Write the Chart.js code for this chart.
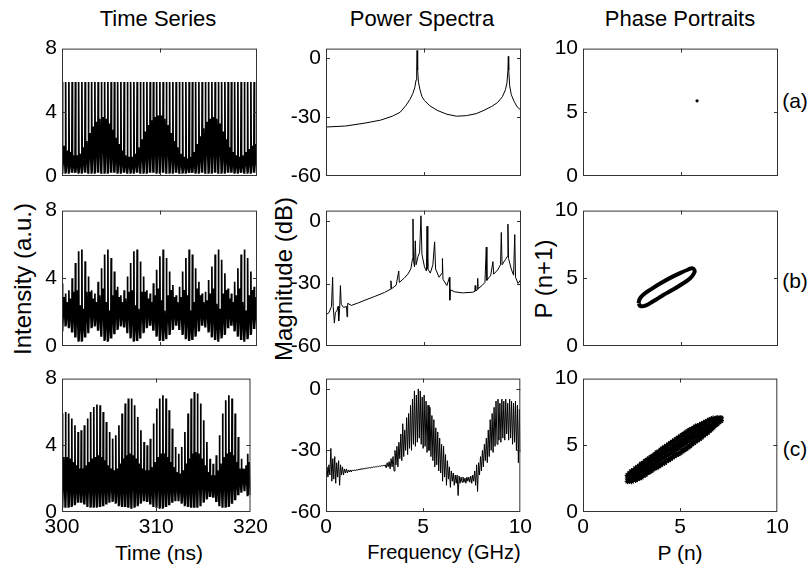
<!DOCTYPE html>
<html><head><meta charset="utf-8">
<script src="https://cdn.jsdelivr.net/npm/chart.js@4/dist/chart.umd.min.js"></script>
<style>
body{margin:0;background:#fff;width:812px;height:568px;position:relative;overflow:hidden;font-family:"Liberation Sans",Arial,sans-serif;}
canvas{position:absolute;}
.t{position:absolute;color:#000;white-space:nowrap;font-size:21px;line-height:1;transform:translate(-50%,-50%);}
.r{transform:translate(-50%,-50%) rotate(-90deg);font-size:24px;}
.h{font-size:22px;}
</style></head><body>
<div class="t h" style="left:158px;top:19px">Time Series</div>
<div class="t h" style="left:422px;top:19px">Power Spectra</div>
<div class="t h" style="left:680px;top:19px">Phase Portraits</div>
<div class="t r" style="left:23px;top:279px">Intensity (a.u.)</div>
<div class="t r" style="left:284px;top:279px">Magnitude (dB)</div>
<div class="t r" style="left:544px;top:279px">P (n+1)</div>
<div class="t" style="left:159px;top:552px">Time (ns)</div>
<div class="t" style="left:444px;top:552px;font-size:20px">Frequency (GHz)</div>
<div class="t" style="left:680px;top:552px">P (n)</div>
<div class="t" style="left:795px;top:100px">(a)</div>
<div class="t" style="left:795px;top:280px">(b)</div>
<div class="t" style="left:795px;top:448px">(c)</div>
<script>
// ---------- tick labels ----------
const timeTicks = [300, 310, 320];
const tsYTicks = [0, 4, 8];
const specXTicks = [0, 5, 10];
const specYTicks = [-60, -30, 0];
const phaseTicks = [0, 5, 10];

// ---------- time series: per-cycle levels (ns 300..320, one cycle per 1/3 ns) ----------
const tsStart = 300, tsCycle = 1/3;
const tsAPeak = [5.9,5.9,5.9,5.9,5.9,5.9,5.9,5.9,5.9,5.9,5.9,5.9,5.9,5.9,5.9,5.9,5.9,5.9,5.9,5.9,5.9,5.9,5.9,5.9,5.9,5.9,5.9,5.9,5.9,5.9,5.9,5.9,5.9,5.9,5.9,5.9,5.9,5.9,5.9,5.9,5.9,5.9,5.9,5.9,5.9,5.9,5.9,5.9,5.9,5.9,5.9,5.9,5.9,5.9,5.9,5.9,5.9,5.9,5.9,5.9];
const tsAMid = [1.9,1.6,1.5,1.3,1.3,1.4,1.8,2.2,2.7,3.1,3.4,3.6,3.7,3.6,3.3,2.9,2.4,2.0,1.6,1.3,1.2,1.2,1.4,1.8,2.3,2.8,3.2,3.5,3.7,3.8,3.8,3.6,3.2,2.7,2.2,1.8,1.4,1.2,1.1,1.2,1.5,2.0,2.5,3.0,3.4,3.6,3.7,3.6,3.3,2.8,2.3,1.8,1.5,1.3,1.2,1.3,1.5,1.7,1.9,2.0];
const tsALow = [0.2,0.2,0.2,0.2,0.2,0.2,0.2,0.2,0.2,0.2,0.2,0.2,0.2,0.2,0.2,0.2,0.2,0.2,0.2,0.2,0.2,0.2,0.2,0.2,0.2,0.2,0.2,0.2,0.2,0.2,0.2,0.2,0.2,0.2,0.2,0.2,0.2,0.2,0.2,0.2,0.2,0.2,0.2,0.2,0.2,0.2,0.2,0.2,0.2,0.2,0.2,0.2,0.2,0.2,0.2,0.2,0.2,0.2,0.2,0.2];

const tsBPeak = [3.7,3.1,3.3,4.0,4.9,5.6,5.7,5.0,4.1,3.3,3.1,3.8,4.6,5.4,5.7,5.2,4.4,3.5,3.0,3.3,4.1,4.9,5.6,5.7,5.0,4.1,3.3,3.1,3.7,4.5,5.3,5.7,5.2,4.4,3.6,3.0,3.5,4.4,5.2,5.7,5.4,4.6,3.8,3.1,3.2,3.9,4.7,5.4,5.7,5.1,4.3,3.4,3.1,3.8,4.6,5.4,5.7,5.2,4.4,3.5];
const tsBMid = [2.9,2.6,2.8,3.2,3.3,2.4,2.2,3.2,3.2,2.8,2.6,3.0,3.4,2.6,2.1,3.0,3.3,2.9,2.6,2.8,3.2,3.3,2.4,2.2,3.2,3.2,2.8,2.6,3.0,3.4,2.7,2.1,3.0,3.3,2.9,2.6,2.9,3.3,3.0,2.1,2.6,3.4,3.0,2.6,2.7,3.1,3.4,2.5,2.2,3.1,3.3,2.8,2.6,3.0,3.4,2.6,2.1,3.0,3.3,2.9];
const tsBLow = [0.9,1.2,1.1,0.8,0.5,0.3,0.3,0.5,0.8,1.1,1.2,0.9,0.6,0.35,0.3,0.45,0.7,1.0,1.2,1.1,0.8,0.5,0.3,0.3,0.5,0.8,1.1,1.2,0.9,0.6,0.35,0.3,0.45,0.7,1.0,1.2,1.0,0.7,0.45,0.3,0.35,0.6,0.9,1.2,1.15,0.85,0.55,0.35,0.3,0.5,0.7,1.05,1.2,0.9,0.6,0.35,0.3,0.45,0.7,1.0];

const tsCPeak = [5.9,6.0,5.9,5.6,5.2,4.8,4.9,5.2,5.6,6.0,6.3,6.45,6.4,6.0,5.4,4.8,4.4,4.6,5.2,5.9,6.5,6.8,6.8,6.4,5.7,4.9,4.2,4.0,4.4,5.3,6.2,6.8,7.0,6.8,6.1,5.0,3.9,3.5,3.9,4.8,5.9,6.8,7.2,7.1,6.5,5.5,4.2,3.2,2.9,3.4,4.6,5.9,6.7,7.0,6.8,5.9,4.5,3.2,2.6,3.5];
const tsCMid = [3.3,3.3,3.2,3.0,2.8,2.6,2.6,2.8,3.0,3.2,3.3,3.4,3.3,3.1,2.8,2.6,2.5,2.6,2.9,3.2,3.4,3.5,3.4,3.2,2.9,2.6,2.5,2.5,2.7,3.0,3.3,3.5,3.5,3.3,3.0,2.7,2.4,2.3,2.5,2.9,3.2,3.5,3.6,3.5,3.2,2.8,2.4,2.2,2.2,2.5,2.9,3.3,3.5,3.6,3.4,3.0,2.6,2.6,2.8,3.0];
const tsCLow = [0.3,0.3,0.3,0.35,0.45,0.55,0.55,0.45,0.35,0.3,0.3,0.3,0.3,0.35,0.45,0.6,0.65,0.55,0.4,0.3,0.3,0.25,0.25,0.3,0.4,0.55,0.65,0.6,0.45,0.35,0.3,0.25,0.25,0.3,0.4,0.55,0.7,0.7,0.55,0.4,0.3,0.25,0.25,0.3,0.4,0.6,0.8,0.9,0.85,0.6,0.4,0.3,0.3,0.35,0.5,0.7,1.0,1.2,1.3,1.0];

// ---------- power spectra ----------
const specAFreq = [0,1,2,2.8,3.4,3.8,4.1,4.3,4.45,4.55,4.62,4.65,4.67,4.7,4.74,4.82,4.92,5.05,5.3,5.7,6.2,6.7,7.2,7.7,8.1,8.5,8.8,9.05,9.2,9.28,9.33,9.35,9.37,9.42,9.5,9.65,9.8,10];
const specADb   = [-35,-34.5,-33,-31.5,-29.5,-27.5,-24,-21,-18,-15,-11,-6,4,-6,-12,-16,-19.5,-21.5,-24,-26.5,-28.5,-29.5,-29.2,-28.2,-26.5,-24.5,-22.5,-19.5,-16,-12.5,-6,1,-6,-14,-18.5,-22,-24.7,-26.5];

const specBFreq = [0,0.15,0.28,0.34,0.37,0.43,0.48,0.56,0.62,0.65,0.7,0.74,0.78,0.9,1.05,1.08,1.11,1.3,1.6,2.0,2.5,3.0,3.3,3.33,3.36,3.6,3.73,3.76,4.0,4.2,4.35,4.44,4.46,4.49,4.54,4.58,4.62,4.72,4.8,4.87,4.92,5.05,5.15,5.18,5.22,5.35,5.48,5.57,5.62,5.8,5.95,5.97,6.0,6.2,6.33,6.35,6.38,6.6,7.0,7.5,7.63,7.65,7.68,7.76,7.78,7.8,8.0,8.15,8.22,8.25,8.45,8.56,8.6,8.8,8.95,8.99,9.03,9.2,9.3,9.33,9.36,9.5,9.62,9.68,9.72,9.85,10];
const specBDb   = [-45,-44,-41,-27,-41,-49,-44,-43,-41,-48,-42,-31,-40,-41.5,-41,-46,-39.5,-40.5,-39.5,-38,-36.2,-34.3,-32.8,-28.7,-32.5,-30.8,-24,-29.5,-27.5,-25.5,-23,-18,1,-19,-22,-9.5,-21,-17,-15,2.5,-16,-22,-24,-2.5,-23,-25,-21,-10,-23,-27,-25,-18,-28,-31,-27,-38,-33,-34,-34.5,-34.2,-33.8,-31,-33.6,-33,-27.5,-32.5,-31,-29.5,-12.5,-28.5,-26,-19.5,-25.5,-23.5,-21,-5.5,-21,-18.5,-17,-1.5,-18,-23,-26,-6.5,-27,-30,-28];

// spectrum (c): noisy band, upper / lower edge every 0.1 GHz from 0 to 10
const specCStep = 0.1;
const specCUpper = [-38,-37,-29,-34,-33,-36,-35,-37,-38,-39,-39,-39.5,-39.5,-39.5,-39.5,-39.5,-39.3,-39.1,-38.9,-38.8,-38.6,-38.5,-38.3,-38.2,-38,-37.9,-37.7,-37.6,-37.4,-37.3,-37,-36,-35.5,-34,-33,-30,-28,-26,-22,-17,-20,-14,-12,-8,-5,-1,-3,0,-1,-4,-3,-6,-8,-9,-13,-15,-19,-21,-24,-27,-28,-32,-35,-38,-40,-41,-42,-42,-42.5,-43,-43,-43.5,-43,-43,-42.5,-42,-40,-37,-36,-33,-30,-27,-24,-20,-15,-12,-9,-6,-5,-7,-5,-6,-5,-7,-5,-6,-7,-6,-8,-10,-9];
const specCLower = [-42,-43,-42,-45,-44,-46,-43,-47,-42,-42,-41,-41,-40.5,-40.5,-40,-39.8,-39.6,-39.4,-39.2,-39.1,-38.9,-38.8,-38.6,-38.5,-38.3,-38.2,-38,-37.9,-37.7,-37.6,-37.6,-38.5,-38,-39,-38,-40,-37,-38,-34,-35,-33,-30,-32,-29,-30,-27,-28,-26,-24,-27,-29,-28,-31,-30,-33,-35,-38,-37,-40,-41,-45,-43,-47,-44,-48,-45,-47,-46,-52,-46,-45.5,-45.5,-46,-45,-45.5,-46,-45,-47,-50,-42,-40,-38,-35,-36,-33,-30,-31,-28,-27,-25,-26,-24,-25,-22,-25,-24,-27,-26,-30,-36,-31];

// ---------- phase portraits ----------
const phaseAPoint = [[5.85, 5.9]];
const phaseBLoop = [[2.85,3.15],[2.9,3.45],[3.1,3.8],[3.5,4.2],[4.0,4.65],[4.5,5.05],[5.0,5.4],[5.4,5.65],[5.6,5.75],[5.72,5.6],[5.7,5.4],[5.5,5.0],[5.1,4.6],[4.6,4.15],[4.1,3.75],[3.6,3.3],[3.2,2.98],[2.95,2.95],[2.85,3.15]];
// cloud of P(n+1) vs P(n): x column and the P(n+1) values seen at it
const phaseCX = [2.3,2.4,2.5,2.6,2.7,2.8,2.9,3.0,3.1,3.2,3.3,3.4,3.5,3.6,3.7,3.8,3.9,4.0,4.1,4.2,4.3,4.4,4.5,4.6,4.7,4.8,4.9,5.0,5.1,5.2,5.3,5.4,5.5,5.6,5.7,5.8,5.9,6.0,6.1,6.2,6.3,6.4,6.5,6.6,6.7,6.8,6.9,7.0,7.1];
const phaseCY = [[2.3,2.55,2.75],[2.35,2.6,2.9],[2.3,2.5,2.8,3.05],[2.45,2.75,3.1],[2.4,2.65,2.95,3.25],[2.5,2.8,3.1,3.35],[2.55,2.85,3.2,3.45],[2.6,2.95,3.25,3.6],[2.75,3.05,3.4,3.65],[2.8,3.15,3.45,3.8],[2.95,3.25,3.6,3.9],[3.0,3.35,3.7,4.0],[3.1,3.45,3.8,4.1],[3.2,3.55,3.9,4.2],[3.3,3.65,4.0,4.3],[3.35,3.75,4.1,4.45],[3.45,3.85,4.2,4.5],[3.55,3.95,4.3,4.65],[3.65,4.05,4.4,4.75],[3.7,4.1,4.5,4.85],[3.85,4.25,4.6,4.95],[3.9,4.3,4.7,5.05],[4.0,4.4,4.75,5.15],[4.1,4.5,4.85,5.25],[4.2,4.6,4.95,5.35],[4.3,4.7,5.05,5.45],[4.35,4.8,5.15,5.55],[4.45,4.9,5.25,5.65],[4.55,5.0,5.35,5.75],[4.65,5.1,5.45,5.85],[4.75,5.2,5.55,5.95],[4.85,5.3,5.65,6.05],[4.95,5.4,5.75,6.15],[5.1,5.5,5.85,6.2],[5.2,5.6,5.95,6.3],[5.3,5.7,6.05,6.4],[5.4,5.75,6.1,6.45],[5.5,5.85,6.2,6.5],[5.6,5.95,6.3,6.6],[5.75,6.05,6.4,6.65],[5.85,6.15,6.5,6.75],[5.95,6.25,6.55,6.8],[6.1,6.4,6.7,6.9],[6.2,6.5,6.8,6.95],[6.35,6.6,6.85,7.0],[6.5,6.7,6.95],[6.6,6.8,7.05],[6.75,7.0],[6.85,7.05]];

// ---------- build data for the library ----------
function timeSeries(peak, mid, low){
  const out = [];
  for (let i = 0; i < peak.length; i++){
    const t = tsStart + i*tsCycle;
    out.push({x:t, y:low[i]});
    out.push({x:t + tsCycle*0.12, y:peak[i]});
    out.push({x:t + tsCycle*0.24, y:low[i]});
    out.push({x:t + tsCycle*0.6, y:mid[i]});
  }
  out.push({x:tsStart + peak.length*tsCycle, y:low[low.length-1]});
  return out;
}
function pairs(xs, ys){ return xs.map((x,i)=>({x, y:ys[i]})); }
function band(upper, lower){
  const out = [];
  for (let i = 0; i < upper.length; i++){
    out.push({x:i*specCStep, y:lower[i]});
    out.push({x:i*specCStep + specCStep/2, y:upper[i]});
  }
  return out;
}
function pts(arr){ return arr.map(p=>({x:p[0], y:p[1]})); }
function cloud(xs, ys){ const o=[]; xs.forEach((x,i)=>ys[i].forEach(y=>o.push({x,y}))); return o; }

const FONT = '"Liberation Sans", Arial, sans-serif';
const colX = [62, 326, 583], colW = 195;
const rows = [{top:45, h:131}, {top:207, h:139}, {top:375, h:137}];
const PADL = 60, PADT = 14, PADR = 14, PADB = 36;

const boxPlugin = {
  id:'box',
  afterDraw(chart){
    const {ctx, chartArea:a, scales:{x, y}} = chart;
    ctx.save();
    ctx.strokeStyle = '#333'; ctx.lineWidth = 1;
    ctx.strokeRect(a.left+0.5, a.top+0.5, a.right-a.left-1, a.bottom-a.top-1);
    ctx.beginPath();
    x.ticks.forEach(t=>{
      if (t.value <= x.min || t.value >= x.max) return;
      const px = Math.round(x.getPixelForValue(t.value)) + 0.5;
      ctx.moveTo(px, a.bottom); ctx.lineTo(px, a.bottom-4);
      ctx.moveTo(px, a.top); ctx.lineTo(px, a.top+4);
    });
    y.ticks.forEach(t=>{
      if (t.value <= y.min || t.value >= y.max) return;
      const py = Math.round(y.getPixelForValue(t.value)) + 0.5;
      ctx.moveTo(a.left, py); ctx.lineTo(a.left+4, py);
      ctx.moveTo(a.right, py); ctx.lineTo(a.right-4, py);
    });
    ctx.stroke();
    ctx.restore();
  }
};

function panel(col, row, datasets, xr, xTicks, yr, yTicks){
  const c = document.createElement('canvas');
  const W = colW + PADL + PADR, H = rows[row].h + PADT + PADB;
  c.width = W; c.height = H;
  c.style.left = (colX[col] - PADL) + 'px';
  c.style.top = (rows[row].top - PADT) + 'px';
  c.style.width = W + 'px'; c.style.height = H + 'px';
  document.body.appendChild(c);
  const showX = row === 2;
  new Chart(c, {
    type:'line',
    data:{datasets},
    options:{
      responsive:false, animation:false, devicePixelRatio:1,
      layout:{padding:{top:PADT, right:PADR, left:0, bottom:0}},
      plugins:{legend:{display:false}, tooltip:{enabled:false}},
      elements:{point:{radius:0}},
      scales:{
        x:{type:'linear', min:xr[0], max:xr[1],
           afterBuildTicks:s=>{ s.ticks = xTicks.map(v=>({value:v})); },
           afterFit:s=>{ s.height = PADB; },
           grid:{display:false, drawTicks:false}, border:{display:false},
           ticks:{autoSkip:false, maxRotation:0, padding:3, color:'#000',
                  font:{family:FONT, size:21},
                  callback:v=> showX ? String(v) : ''}},
        y:{type:'linear', min:yr[0], max:yr[1],
           afterBuildTicks:s=>{ s.ticks = yTicks.map(v=>({value:v})); },
           afterFit:s=>{ s.width = PADL; },
           grid:{display:false, drawTicks:false}, border:{display:false},
           ticks:{autoSkip:false, padding:5, color:'#000',
                  font:{family:FONT, size:21}, callback:v=>String(v)}}
      }
    },
    plugins:[boxPlugin]
  });
}

const lineDs = (data, w) => ({data, borderColor:'#000', borderWidth:w||1, pointRadius:0, tension:0, fill:false});

// column 1: time series
panel(0,0,[lineDs(timeSeries(tsAPeak, tsAMid, tsALow),1.7)],[300,320],timeTicks,[0,8],tsYTicks);
panel(0,1,[lineDs(timeSeries(tsBPeak, tsBMid, tsBLow),1.7)],[300,320],timeTicks,[0,8],tsYTicks);
panel(0,2,[lineDs(timeSeries(tsCPeak, tsCMid, tsCLow),1.7)],[300,320],timeTicks,[0,8],tsYTicks);
// column 2: power spectra
panel(1,0,[lineDs(pairs(specAFreq, specADb))],[0,10],specXTicks,[-60,5],specYTicks);
panel(1,1,[lineDs(pairs(specBFreq, specBDb))],[0,10],specXTicks,[-60,5],specYTicks);
panel(1,2,[lineDs(band(specCUpper, specCLower))],[0,10],specXTicks,[-60,5],specYTicks);
// column 3: phase portraits
panel(2,0,[{data:pts(phaseAPoint), showLine:false, pointRadius:1.6, pointBackgroundColor:'#000', pointBorderColor:'#000', pointBorderWidth:0}],[0,10],phaseTicks,[0,10],phaseTicks);
panel(2,1,[{data:pts(phaseBLoop), borderColor:'#000', borderWidth:4, pointRadius:0, tension:0.45, fill:false}],[0,10],phaseTicks,[0,10],phaseTicks);
panel(2,2,[{data:cloud(phaseCX, phaseCY), showLine:false, pointStyle:'star', pointRadius:3, pointBorderColor:'#000', pointBorderWidth:1.2, pointBackgroundColor:'#000'}],[0,10],phaseTicks,[0,10],phaseTicks);
</script>
</body></html>
